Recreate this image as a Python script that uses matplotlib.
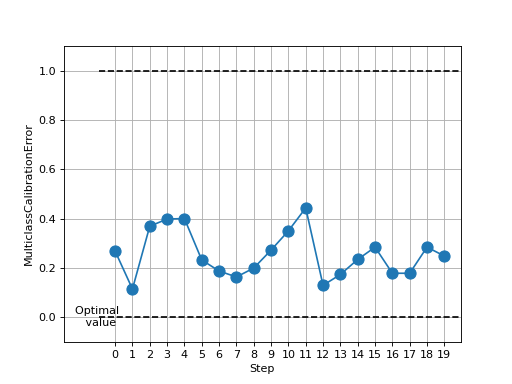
import numpy as np
import matplotlib
matplotlib.use('Agg')
import matplotlib.pyplot as plt

# Values
steps = list(range(20))
error = [0.268, 0.114, 0.369, 0.398, 0.400, 0.232, 0.187, 0.163, 0.199, 0.272,
         0.350, 0.443, 0.129, 0.173, 0.234, 0.284, 0.178, 0.178, 0.284, 0.248]
optimal_value = 0.0
upper_bound = 1.0

fig, ax = plt.subplots(figsize=(6.4, 4.8), dpi=80)
ax.plot(steps, error, marker='o', markersize=10, linestyle='-')

l, r = ax.get_xlim()
ax.hlines(optimal_value, l, r, linestyles='dashed', colors='k')
ax.hlines(upper_bound, l, r, linestyles='dashed', colors='k')
ax.text(l, optimal_value, 'Optimal \n value', horizontalalignment='center',
        verticalalignment='center')

ax.set_xlim(l - 2, r)
ax.set_ylim(-0.1, 1.1)
ax.set_xticks(steps)
ax.grid(True)
ax.set_xlabel('Step')
ax.set_ylabel('MulticlassCalibrationError')

fig.savefig('out.png', dpi=80)
